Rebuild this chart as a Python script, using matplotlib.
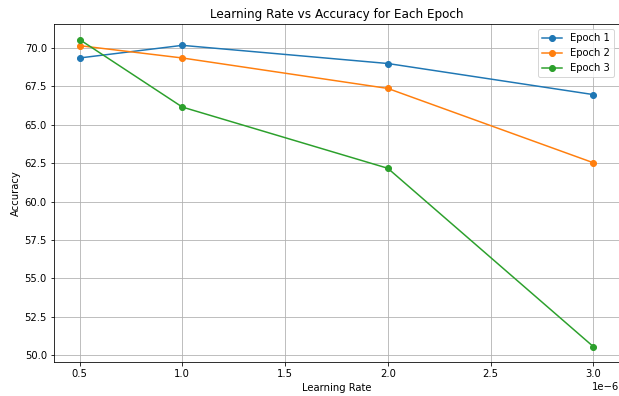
import numpy as np
import matplotlib
matplotlib.use("Agg")
import matplotlib.pyplot as plt

learning_rates = [0.5e-6, 1.0e-6, 2.0e-6, 3.0e-6]
epoch_labels = ["Epoch 1", "Epoch 2", "Epoch 3"]
accuracy = [
    [69.33, 70.15, 68.97, 66.95],   # epoch 1
    [70.13, 69.33, 67.35, 62.52],   # epoch 2
    [70.53, 66.14, 62.16, 50.57],   # epoch 3
]

fig, ax = plt.subplots(figsize=(619 / 72, 396 / 72), dpi=72)
fig.subplots_adjust(left=0.087, right=1.0, top=0.939, bottom=0.086)

for label, acc in zip(epoch_labels, accuracy):
    ax.plot(learning_rates, acc, marker="o", label=label)

ax.set_title("Learning Rate vs Accuracy for Each Epoch")
ax.set_xlabel("Learning Rate")
ax.set_ylabel("Accuracy")
ax.grid(True)
ax.legend()
# the reference screenshot is cropped just at the right spine
ax.spines["right"].set_visible(False)

plt.savefig("out.png", dpi=72)
